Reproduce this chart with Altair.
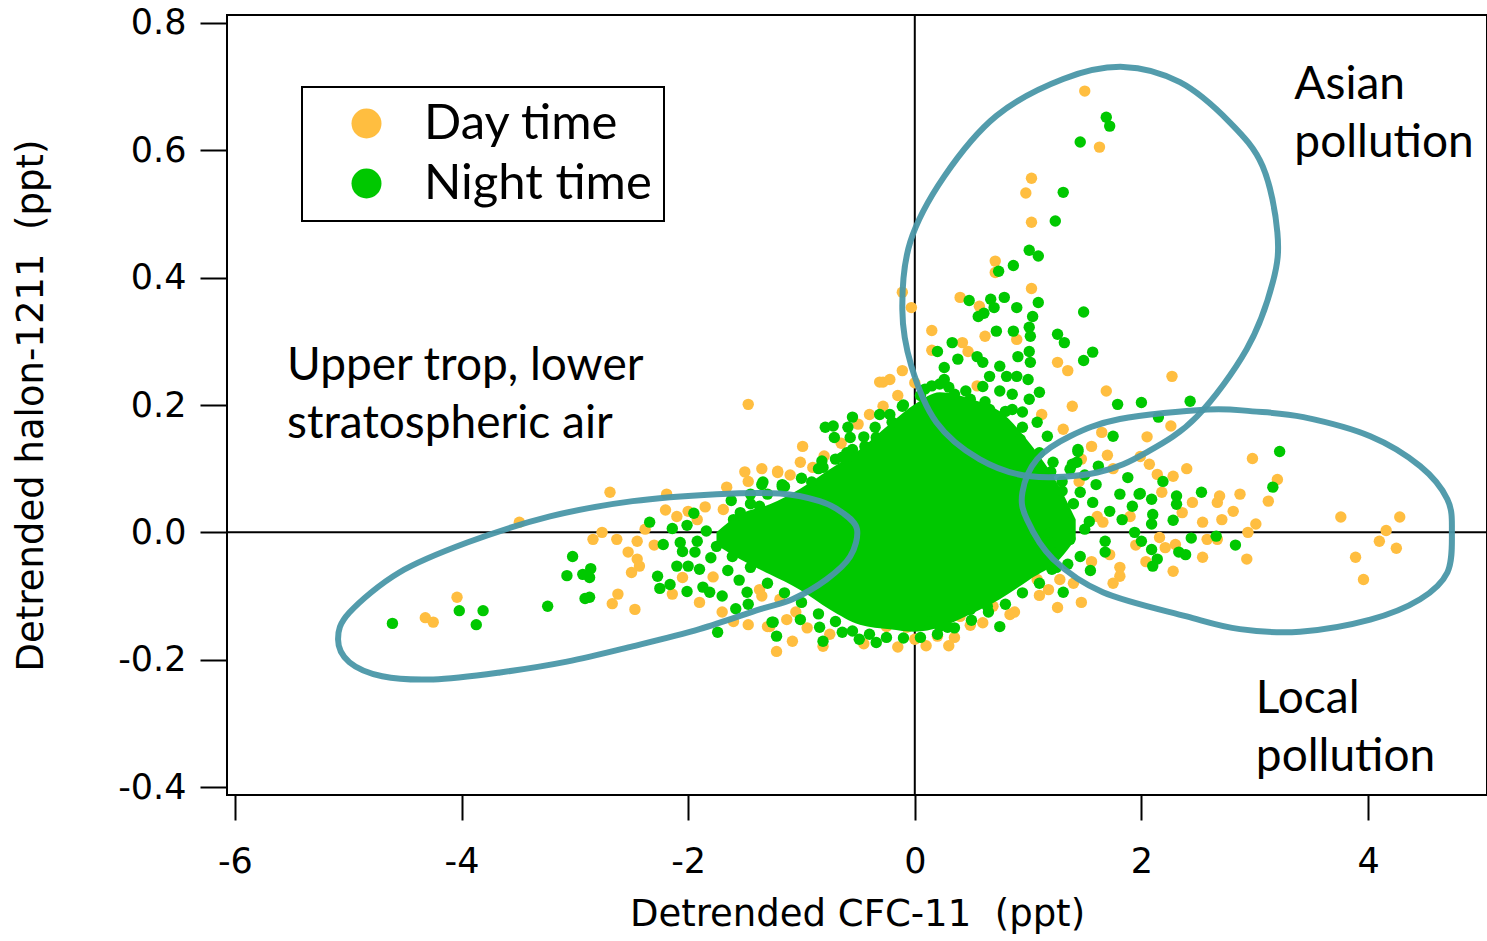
import altair as alt
import pandas as pd

# ---------------- data ----------------
day_left = [(-2.69,0.063),(-3.49,0.016),(-2.19,0.060),(-4.04,-0.102),(-4.32,-0.134),(-4.25,-0.141),
            (-2.62,-0.097),(-2.67,-0.112),(-2.47,-0.121),(-2.84,-0.011),(-2.76,0.000),(-2.63,-0.011),
            (-2.45,-0.014),(-2.53,-0.031),(-2.45,-0.042),(-2.43,-0.053),(-2.50,-0.063),(-2.10,0.025),
            (-2.00,0.033),(-1.92,0.020),(-2.14,-0.097),(-2.05,-0.071),(-1.69,0.036),(-1.47,0.080),
            (-1.66,0.071),(-1.21,0.094),(-1.47,-0.145),(-1.22,-0.187),(-1.28,-0.148),(-1.08,-0.171),
            (-2.38,0.005),(-1.47,0.201),(-1.85,0.040),(-1.78,-0.070),(-1.60,-0.140),(-1.70,-0.125),
            (-2.30,-0.020),(-2.20,0.035),(-1.90,-0.110),(-1.50,0.095),(-1.35,0.100)]
day_core_edge = [(-0.28,0.236),(-0.99,0.135),(-1.21,0.096),(-1.01,0.110),(-0.90,0.102),(-0.28,0.198),
                 (-0.07,0.178),(-0.19,0.157),(1.39,0.198),(1.12,0.185),(1.31,0.162),(1.56,0.135),
                 (1.47,0.115),(1.26,-0.118),(1.47,-0.110),(1.08,-0.074),(0.20,-0.163),(-0.81,-0.179),
                 (-1.30,-0.148),(0.40,-0.132),(0.69,-0.116),(-0.25,-0.148),(-0.07,-0.149),(-1.13,-0.137),
                 (0.00,-0.168),(0.49,-0.146),(0.84,-0.129),(1.10,-0.099),(1.28,-0.074),(-1.19,-0.105),
                 (-1.37,-0.090),(-1.35,-0.100),(-1.05,-0.125),(-0.75,-0.160),(-0.45,-0.175),(-0.15,-0.180),
                 (0.10,-0.178),(0.35,-0.165),(0.60,-0.142),(0.88,-0.125),(1.18,-0.090),(-0.95,-0.150),
                 (0.30,-0.178),(-1.10,0.090),(-0.80,0.120),(-0.50,0.170),(-0.40,0.185),(-0.15,0.215),
                 (0.00,0.235),(0.55,0.230),(-0.65,0.140)]
day_upper = [(1.50,0.693),(1.63,0.605),(1.03,0.556),(0.98,0.533),(1.03,0.487),(0.71,0.426),(0.71,0.408),
             (1.03,0.383),(-0.11,0.377),(-0.03,0.353),(0.40,0.369),(0.57,0.355),(0.15,0.317),(0.15,0.286),
             (-0.11,0.254),(0.42,0.298),(0.47,0.284),(0.62,0.308),(0.90,0.303),(1.26,0.267),(1.35,0.254),
             (2.27,0.245),(1.69,0.222),(-0.31,0.236),(-0.22,0.240)]
day_right = [(2.26,0.167),(1.65,0.157),(1.70,0.121),(1.99,0.119),(2.07,0.107),(2.14,0.091),(2.28,0.088),
             (2.98,0.116),(3.20,0.083),(2.87,0.060),(2.69,0.057),(2.45,0.047),(2.36,0.031),(2.54,0.016),
             (2.71,0.020),(2.81,0.033),(2.67,0.047),(3.12,0.049),(3.01,0.013),(2.94,0.000),(2.58,-0.011),
             (2.67,-0.011),(2.16,-0.008),(2.21,-0.024),(2.30,-0.019),(2.54,-0.039),(2.04,-0.046),
             (2.28,-0.061),(2.93,-0.042),(3.76,0.024),(4.28,0.024),(4.16,0.003),(4.10,-0.014),
             (4.25,-0.025),(3.89,-0.039),(3.96,-0.074),(1.81,-0.055),(1.81,-0.069),(1.56,-0.046),
             (1.72,-0.035),(1.61,0.025),(1.66,0.016),(2.18,0.063),(1.45,0.080),(1.75,0.100),(1.90,0.025),
             (1.95,-0.020),(1.75,-0.080),(1.40,-0.080),(2.05,0.150),(2.40,0.100)]

night_left = [(-4.61,-0.143),(-4.02,-0.123),(-3.81,-0.123),(-3.87,-0.145),(-3.24,-0.116),(-3.02,-0.038),
              (-3.07,-0.068),(-2.93,-0.066),(-2.86,-0.057),(-2.87,-0.071),(-2.91,-0.104),(-2.87,-0.102),
              (-2.34,0.016),(-2.14,0.006),(-2.01,0.011),(-2.22,-0.019),(-2.07,-0.016),(-1.92,-0.014),
              (-1.94,-0.031),(-2.27,-0.069),(-2.25,-0.088),(-2.16,-0.082),(-2.01,-0.093),(-2.10,-0.053),
              (-2.00,-0.053),(-1.87,-0.086),(-1.81,-0.094),(-1.90,-0.058),(-1.74,-0.157),(-1.48,-0.094),
              (-1.47,-0.113),(-1.26,-0.141),(-1.22,-0.163),(-1.35,0.075),(-1.17,0.075),(-1.54,0.031),
              (-1.37,0.041),(-1.75,-0.022),(-1.84,0.002),(-1.61,-0.038),(-1.60,0.020),(-1.65,-0.060),
              (-1.55,-0.075),(-1.70,-0.100),(-1.58,-0.120),(-1.45,0.060),(-1.62,0.050),(-1.80,-0.040),
              (-1.95,0.030),(-2.05,-0.030)]
night_core_edge = [(-0.79,0.165),(-0.72,0.167),(-0.55,0.181),(-0.59,0.165),(-0.71,0.149),(-0.57,0.149),
                   (-0.82,0.112),(-0.81,0.102),(-0.31,0.185),(-0.20,0.173),(-0.34,0.149),(-0.11,0.198),
                   (-0.44,0.135),(-0.55,0.130),(-0.57,0.119),(-0.64,0.118),(-1.17,0.072),(-1.34,0.079),
                   (-0.91,0.079),(0.60,0.229),(0.75,0.222),(0.86,0.217),(1.01,0.209),(1.10,0.220),
                   (0.86,0.193),(0.95,0.189),(1.08,0.173),(1.17,0.151),(1.44,0.127),(1.43,0.110),
                   (1.31,-0.094),(0.75,-0.148),(0.64,-0.116),(1.21,-0.058),(-1.25,-0.141),(-1.01,-0.137),
                   (-0.84,-0.149),(-0.81,-0.171),(-0.49,-0.168),(-0.34,-0.173),(-0.64,-0.157),(0.22,-0.148),
                   (0.29,-0.149),(0.13,-0.141),(0.49,-0.121),(0.35,0.217),(0.49,0.209),(0.66,0.193),
                   (0.40,0.178),(0.79,0.170),(0.93,0.146),(0.09,0.225),(0.22,0.233),
                   (-1.45,0.045),(-1.30,0.060),(-1.15,0.072),(-1.00,0.085),(-0.85,0.100),(-0.70,0.115),
                   (-0.60,0.125),(-0.45,0.150),(-0.35,0.165),(-0.22,0.185),(-0.10,0.200),(0.05,0.215),
                   (0.15,0.230),(0.30,0.228),(0.45,0.222),(0.62,0.205),(0.80,0.190),(0.95,0.165),
                   (1.10,0.125),(1.20,0.095),(1.30,0.065),
                   (-1.45,-0.055),(-1.30,-0.080),(-1.15,-0.095),(-1.00,-0.110),(-0.85,-0.128),(-0.70,-0.140),
                   (-0.55,-0.155),(-0.40,-0.160),(-0.25,-0.165),(-0.10,-0.166),(0.05,-0.165),(0.20,-0.160),
                   (0.35,-0.150),(0.50,-0.138),(0.65,-0.125),(0.80,-0.113),(0.95,-0.095),(1.10,-0.080),
                   (1.25,-0.055)]
night_upper = [(1.69,0.652),(1.72,0.638),(1.46,0.613),(1.31,0.534),(1.24,0.489),(1.01,0.443),(1.09,0.434),
               (0.87,0.419),(0.74,0.410),(0.48,0.364),(0.67,0.366),(0.70,0.353),(0.79,0.369),(0.90,0.353),
               (0.56,0.339),(0.61,0.344),(1.09,0.361),(1.04,0.339),(1.01,0.322),(1.02,0.308),(0.72,0.316),
               (0.87,0.316),(1.49,0.346),(1.26,0.311),(1.32,0.298),(1.57,0.283),(1.49,0.270),(1.01,0.284),
               (1.02,0.267),(0.91,0.276),(0.20,0.284),(0.33,0.298),(0.38,0.272),(0.26,0.259),(0.26,0.240),
               (0.55,0.276),(0.60,0.267),(0.75,0.261),(0.66,0.245),(0.81,0.245),(0.90,0.245),(1.00,0.240)]
night_right = [(1.79,0.201),(2.00,0.204),(2.43,0.206),(2.15,0.181),(1.75,0.151),(1.44,0.130),(1.39,0.107),
               (1.62,0.104),(1.88,0.086),(2.19,0.080),(2.53,0.063),(3.16,0.071),(3.22,0.127),(1.98,0.060),
               (2.31,0.057),(2.66,-0.006),(2.44,-0.009),(2.83,-0.020),(2.33,-0.031),(2.39,-0.035),
               (2.14,-0.042),(2.10,-0.053),(2.28,0.019),(2.09,0.052),(1.99,0.061),(2.31,0.044),(1.92,0.041),
               (2.10,0.028),(2.09,0.013),(1.94,0.000),(2.00,-0.014),(2.09,-0.027),(1.68,-0.014),
               (1.68,-0.031),(1.46,-0.038),(1.81,0.060),(1.72,0.033),(1.83,0.020),(1.57,0.047),(1.54,0.017),
               (1.46,0.063),(1.37,0.099),(1.22,0.110),(1.32,0.028),(1.37,-0.011),(1.50,0.005),(1.28,-0.019),
               (1.30,0.080),(1.50,0.090),(1.60,0.075),(1.40,0.045),(1.55,-0.060),(1.35,-0.050),(1.20,0.000)]

# envelope of the saturated night-time core
core_x = [-1.75, -1.545, -1.28, -1.015, -0.75, -0.485, -0.221, 0.0, 0.221, 0.485, 0.75, 1.015, 1.28, 1.42]
core_top = [0.000, 0.028, 0.044, 0.068, 0.099, 0.130, 0.170, 0.201, 0.220, 0.210, 0.190, 0.140, 0.070, 0.020]
core_bottom = [-0.020, -0.042, -0.066, -0.090, -0.121, -0.145, -0.152, -0.156, -0.149, -0.129, -0.105,
               -0.074, -0.042, -0.010]

# hand-drawn ellipse outlines (vertices)
ellipse_strat = [(-5.09,-0.168),(-4.99,-0.126),(-4.55,-0.063),(-3.95,-0.016),(-3.22,0.025),(-2.49,0.049),
                 (-1.75,0.060),(-1.19,0.061),(-0.84,0.049),(-0.64,0.031),(-0.51,0.005),(-0.57,-0.038),
                 (-0.78,-0.074),(-1.08,-0.105),(-1.37,-0.121),(-1.90,-0.152),(-2.49,-0.179),(-3.07,-0.203),
                 (-3.66,-0.220),(-4.25,-0.231),(-4.70,-0.226),(-4.99,-0.204)]
ellipse_asian = [(1.84,0.731),(2.34,0.707),(2.78,0.644),(3.07,0.575),(3.20,0.471),(3.16,0.393),(2.93,0.288),
                 (2.49,0.182),(2.05,0.126),(1.61,0.094),(1.02,0.088),(0.57,0.115),(0.19,0.173),(-0.03,0.261),
                 (-0.11,0.350),(-0.04,0.456),(0.26,0.559),(0.72,0.654),(1.31,0.712)]
ellipse_local = [(2.58,0.193),(2.98,0.190),(3.43,0.181),(4.02,0.151),(4.46,0.104),(4.70,0.052),(4.74,0.000),
                 (4.70,-0.063),(4.46,-0.105),(4.02,-0.137),(3.40,-0.156),(2.87,-0.152),(2.40,-0.132),
                 (1.66,-0.094),(1.22,-0.042),(0.99,0.020),(0.95,0.063),(1.08,0.115),(1.37,0.151),(1.81,0.178)]

annotations = ["Upper trop, lower\nstratospheric air", "Asian\npollution", "Local\npollution"]
annot_x = [-5.54, 3.35, 3.01]
annot_y = [0.240, 0.680, -0.283]

series_names = ["Day time", "Night time"]
x_ticks = [-6, -4, -2, 0, 2, 4]
y_ticks = [-0.4, -0.2, 0.0, 0.2, 0.4, 0.6, 0.8]

# ---------------- styles ----------------
DAY = "#FFBE40"
NIGHT = "#00C800"
ELLIPSE = "#4A97A8"
AXFONT = "DejaVu Sans"
TXTFONT = "Lato"

def pts(groups, name):
    rows = [{"x": x, "y": y, "series": name} for g in groups for (x, y) in g]
    return pd.DataFrame(rows)

day_df = pts([day_left, day_core_edge, day_upper, day_right], series_names[0])
night_df = pts([night_left, night_core_edge, night_upper, night_right], series_names[1])
core_df = pd.DataFrame({"x": core_x, "top": core_top, "bottom": core_bottom})

ell_rows = []
for name, verts in [("strat", ellipse_strat), ("asian", ellipse_asian), ("local", ellipse_local)]:
    for i, (x, y) in enumerate(verts):
        ell_rows.append({"ellipse": name, "idx": i, "x": x, "y": y})
ell_df = pd.DataFrame(ell_rows)

ann_df = pd.DataFrame({"label": annotations, "x": annot_x, "y": annot_y})

x_scale = alt.Scale(domain=[-6.07, 5.05], nice=False, zero=False)
y_scale = alt.Scale(domain=[-0.4125, 0.8125], nice=False, zero=False)

x_axis = alt.Axis(values=x_ticks, title="Detrended CFC-11\u00a0 (ppt)",
                  labelExpr="replace(format(datum.value, 'd'), '\u2212', '-')",
                  tickSize=25, labelPadding=52, labelBaseline="alphabetic",
                  titleX=630, titleY=130, titleBaseline="alphabetic", titleAlign="center")
y_axis = alt.Axis(values=y_ticks, title="Detrended halon-1211\u00a0 (ppt)",
                  labelExpr="replace(format(datum.value, '.1f'), '\u2212', '-')",
                  tickSize=27, labelPadding=14,
                  titleX=-196, titleY=390, titleAngle=-90, titleBaseline="middle", titleAlign="center")

def X(f):
    return alt.X(f, type="quantitative", scale=x_scale, axis=x_axis)

def Y(f):
    return alt.Y(f, type="quantitative", scale=y_scale, axis=y_axis)

color_enc = alt.Color("series:N",
                      scale=alt.Scale(domain=series_names, range=[DAY, NIGHT]),
                      legend=alt.Legend(title=None, orient="none", legendX=75, legendY=72,
                                        symbolType="circle", symbolSize=900, symbolStrokeWidth=0,
                                        symbolOpacity=1, symbolOffset=28, labelOffset=33, labelLimit=500,
                                        labelFont=TXTFONT, labelFontSize=49, labelColor="black",
                                        padding=12, rowPadding=10, strokeColor="black",
                                        fillColor="white"))

zero_v = alt.Chart(pd.DataFrame({"x": [0]})).mark_rule(color="black", strokeWidth=2).encode(x=X("x"))
zero_h = alt.Chart(pd.DataFrame({"y": [0]})).mark_rule(color="black", strokeWidth=2).encode(y=Y("y"))

day_layer = alt.Chart(day_df).mark_circle(size=130, opacity=1).encode(x=X("x"), y=Y("y"), color=color_enc)
core_layer = alt.Chart(core_df).mark_area(color=NIGHT, opacity=1, interpolate="monotone").encode(
    x=X("x"), y=Y("top"), y2=alt.Y2("bottom"))
night_layer = alt.Chart(night_df).mark_circle(size=130, opacity=1).encode(x=X("x"), y=Y("y"), color=color_enc)

ell_layer = alt.Chart(ell_df).mark_line(interpolate="cardinal-closed", strokeWidth=6, color=ELLIPSE,
                                        opacity=0.95).encode(
    x=X("x"), y=Y("y"), detail="ellipse:N", order="idx:Q")

text_layer = alt.Chart(ann_df).mark_text(align="left", baseline="alphabetic", font=TXTFONT, fontSize=46,
                                         lineHeight=58, lineBreak="\n", color="black").encode(
    x=X("x"), y=Y("y"), text="label:N")

chart = alt.layer(zero_v, zero_h, day_layer, core_layer, night_layer, ell_layer, text_layer).properties(
    width=1260, height=780,
    autosize=alt.AutoSizeParams(type="none"),
    padding={"left": 227, "top": 15, "right": 0, "bottom": 146},
    background="white",
).configure_view(stroke="black", strokeWidth=2).configure_axis(
    grid=False, domain=False, tickColor="black", tickWidth=2,
    labelFont=AXFONT, labelFontSize=35, labelColor="black",
    titleFont=AXFONT, titleFontSize=37, titleFontWeight="normal", titleColor="black",
).configure_legend(strokeWidth=2)

chart.save("out.html", embed_options={"renderer": "svg", "actions": False})
